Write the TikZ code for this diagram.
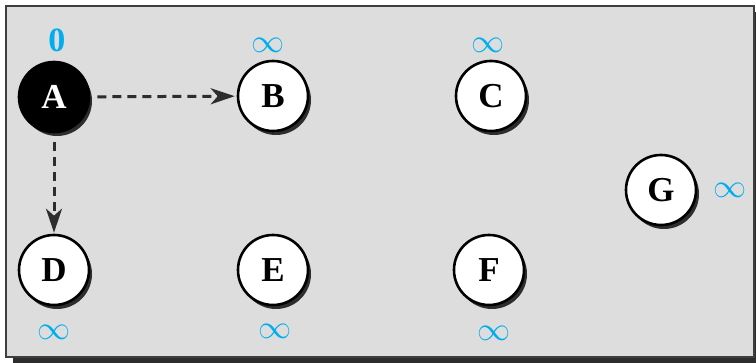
\documentclass[tikz,border=0pt]{standalone}
\usepackage{fontspec}
\setmainfont{Liberation Serif}
\usepackage{graphicx}
\usepackage{xcolor}
\usepackage{tikz}
\usetikzlibrary{arrows.meta,shadows}
\definecolor{ciano}{RGB}{0,174,239}
\definecolor{cinzafundo}{RGB}{221,221,221}
\definecolor{cinzaborda}{RGB}{62,62,62}
\definecolor{cinzasombra}{RGB}{45,45,45}
\newcommand{\infgrande}{\scalebox{1.33}{$\infty$}}
\tikzset{
  no/.style={circle,draw=black,fill=white,line width=2.6pt,minimum size=70pt,
    inner sep=0pt,font=\fontsize{35}{40}\selectfont\bfseries,
    drop shadow={shadow xshift=3pt,shadow yshift=-4pt,fill=cinzasombra,opacity=1}},
  noini/.style={no,fill=black,text=white},
  dist/.style={inner sep=0pt,text=ciano,font=\Huge},
  distini/.style={inner sep=0pt,text=ciano,font=\fontsize{34}{38}\selectfont\bfseries},
  seta/.style={-{Stealth[length=24pt,width=16pt,inset=7pt]},line width=3pt,
    dash pattern=on 9pt off 6pt,cinzasombra}
}
\begin{document}
\begin{tikzpicture}[x=1pt,y=-1pt]
  \useasboundingbox (0,0) rectangle (756,363);
  \fill[cinzasombra] (13,12) rectangle (756,363);
  \draw[fill=cinzafundo,draw=cinzaborda,line width=2pt] (6,6) rectangle (754,357);
  \node[noini] (A) at (54,97) {A};
  \foreach \n/\x/\y in {B/273/96,C/491/96,D/54/270,E/273/270,F/489/270,G/661/190}
    \node[no] (\n) at (\x,\y) {\n};
  \node[distini] (dA) at (57,40) {0};
  \foreach \n/\x/\y in {B/268/45,C/488/45,D/54/332,E/275/331,F/494/333,G/730/190}
    \node[dist] (d\n) at (\x,\y) {\infgrande};
  \draw[seta,shorten <=7pt,shorten >=2pt] (A) -- (B);
  \draw[seta,shorten <=9pt,shorten >=1pt] (A) -- (D);
\end{tikzpicture}
\end{document}
